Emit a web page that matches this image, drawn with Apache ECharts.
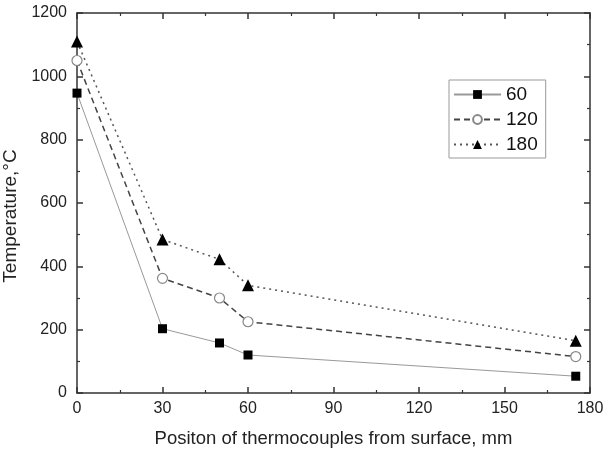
<!DOCTYPE html>
<html>
<head>
<meta charset="utf-8">
<script src="https://cdn.jsdelivr.net/npm/echarts@6/dist/echarts.min.js"></script>
<style>html,body{margin:0;padding:0;background:#fff}#c{width:604px;height:452px}</style>
</head>
<body>
<div id="c"></div>
<script>
const positions = [0, 30, 50, 60, 175];
const t60 = [947, 203, 158, 120, 53];
const t120 = [1050, 362, 300, 225, 115];
const t180 = [1110, 485, 422, 340, 165];
const seriesNames = ['60', '120', '180'];
const xTicks = [0, 30, 60, 90, 120, 150, 180];
const yTicks = [0, 200, 400, 600, 800, 1000, 1200];

const pair = arr => positions.map((x, i) => [x, arr[i]]);
const font = 'Liberation Sans, Arial, sans-serif';

function mk(pos, show, name, range, labelMargin, nameGap, nameSize, namePad) {
  return {
    type: 'value', position: pos,
    min: range[0], max: range[range.length - 1], interval: range[1] - range[0],
    axisLine: {show: true, onZero: false, lineStyle: {color: '#333', width: 1.5}},
    axisTick: {show: true, inside: true, length: 6, lineStyle: {color: '#333', width: 1.5}},
    minorTick: {show: true, splitNumber: 2, length: 3, lineStyle: {color: '#333', width: 1.2}},
    splitLine: {show: false},
    axisLabel: {show: show, inside: false, color: '#222', fontSize: 16, fontFamily: font, margin: labelMargin,
      formatter: v => String(v)},
    name: name, nameLocation: 'middle', nameGap: nameGap,
    nameTextStyle: {color: '#222', fontSize: nameSize, fontFamily: font, padding: namePad || 0}
  };
}

const chart = echarts.init(document.getElementById('c'), null, {renderer: 'canvas'});
chart.setOption({
  animation: false,
  backgroundColor: '#fff',
  grid: {left: 77, right: 14, top: 13, bottom: 59, containLabel: false, outerBoundsMode: 'none'},
  legend: {
    orient: 'vertical', left: 449, top: 80,
    data: seriesNames,
    borderColor: '#999', borderWidth: 1,
    padding: [5, 8, 4, 4], itemGap: 6, itemWidth: 47, itemHeight: 11,
    textStyle: {color: '#111', fontSize: 19, fontFamily: font}
  },
  xAxis: [
    mk('bottom', true, 'Positon of thermocouples from surface, mm', xTicks, 8, 36, 18.5),
    mk('top', false, '', xTicks, 8, 30, 14)
  ],
  yAxis: [
    mk('left', true, 'Temperature,°C', yTicks, 10, 54, 19, [0, 26, 0, 0]),
    mk('right', false, '', yTicks, 10, 30, 14)
  ],
  series: [
    {name: '60', type: 'line', data: pair(t60), symbol: 'rect', symbolSize: 9,
     itemStyle: {color: '#000'}, lineStyle: {color: '#999', width: 1, type: 'solid'}},
    {name: '120', type: 'line', data: pair(t120), symbol: 'circle', symbolSize: 10,
     itemStyle: {color: '#fff', borderColor: '#888', borderWidth: 1.2}, lineStyle: {color: '#444', width: 1.5, type: [6, 4]}},
    {name: '180', type: 'line', data: pair(t180), symbol: 'triangle', symbolSize: 12,
     itemStyle: {color: '#000'}, lineStyle: {color: '#555', width: 1.5, type: [2, 4]}}
  ]
});
</script>
</body>
</html>
